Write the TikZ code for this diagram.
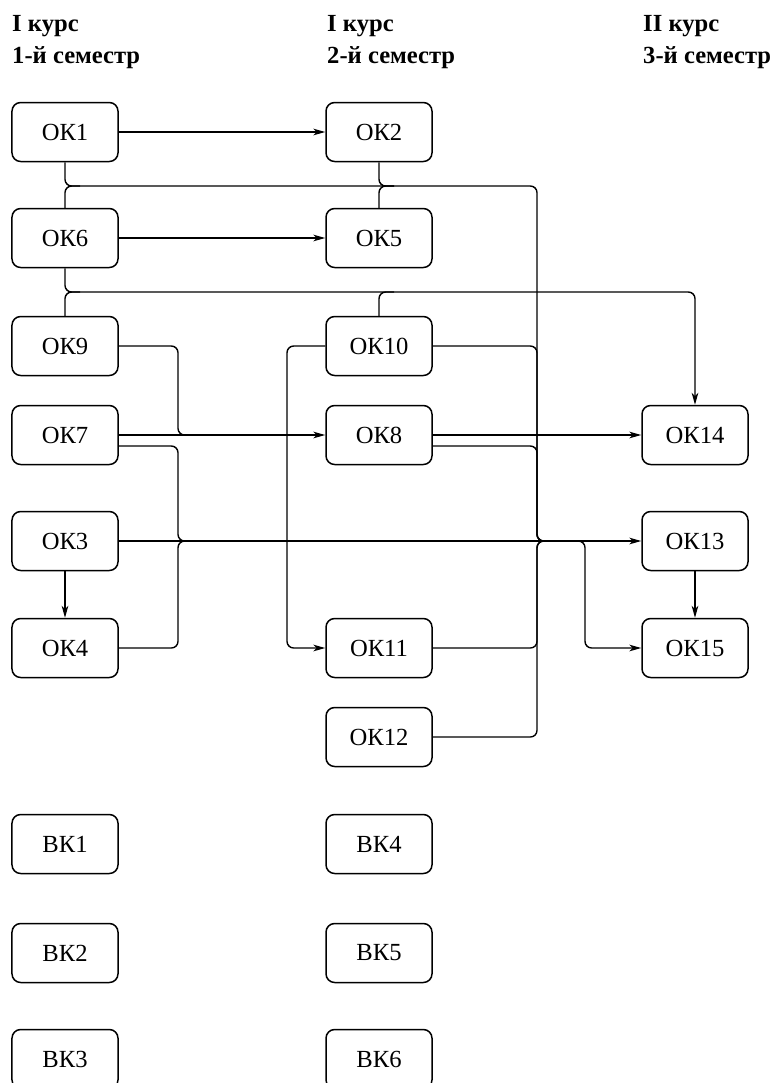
\documentclass[tikz,border=0pt]{standalone}
\usepackage{fontspec}
\setmainfont{Liberation Serif}
\usetikzlibrary{arrows.meta,calc}

\tikzset{
  kbox/.style={draw, line width=0.045cm, rounded corners=0.26cm,
    minimum width=3.18cm, minimum height=1.77cm, inner sep=0pt,
    font=\fontsize{21}{25}\selectfont},
  head/.style={anchor=base west, inner sep=0pt,
    font=\fontsize{21}{25}\selectfont\bfseries},
  conn/.style={line width=0.042cm, rounded corners=0.2cm},
  arr/.style={conn, -{Stealth[length=0.36cm, width=0.2cm, inset=0.1cm]}}
}

\begin{document}
\begin{tikzpicture}[x=0.03cm, y=-0.03cm]
\useasboundingbox (0,0) rectangle (779,1083);

% Headers
\node[head] (h1a) at (12,31) {І курс};
\node[head] (h1b) at (12,63) {1-й семестр};
\node[head] (h2a) at (327,31) {І курс};
\node[head] (h2b) at (327,63) {2-й семестр};
\node[head] (h3a) at (643,31) {ІІ курс};
\node[head] (h3b) at (643,63) {3-й семестр};

% Column 1
\node[kbox] (ok1) at (65,132) {ОК1};
\node[kbox] (ok6) at (65,238) {ОК6};
\node[kbox] (ok9) at (65,346) {ОК9};
\node[kbox] (ok7) at (65,435) {ОК7};
\node[kbox] (ok3) at (65,541) {ОК3};
\node[kbox] (ok4) at (65,648) {ОК4};
\node[kbox] (vk1) at (65,844) {ВК1};
\node[kbox] (vk2) at (65,953) {ВК2};
\node[kbox] (vk3) at (65,1059) {ВК3};

% Column 2
\node[kbox] (ok2) at (379,132) {ОК2};
\node[kbox] (ok5) at (379,238) {ОК5};
\node[kbox] (ok10) at (379,346) {ОК10};
\node[kbox] (ok8) at (379,435) {ОК8};
\node[kbox] (ok11) at (379,648) {ОК11};
\node[kbox] (ok12) at (379,737) {ОК12};
\node[kbox] (vk4) at (379,844) {ВК4};
\node[kbox] (vk5) at (379,953) {ВК5};
\node[kbox] (vk6) at (379,1059) {ВК6};

% Column 3
\node[kbox] (ok14) at (695,435) {ОК14};
\node[kbox] (ok13) at (695,541) {ОК13};
\node[kbox] (ok15) at (695,648) {ОК15};

% Bus points
\coordinate (top1) at (537,186);
\coordinate (top2) at (695,292);
\coordinate (j1) at (178,541);
\coordinate (j2) at (537,541);
\coordinate (split) at (585,541);
\coordinate (bend) at (287,500);

% Drawing straight lines
\draw[arr] (ok1.east) -- (ok2.west);
\draw[arr] (ok6.east) -- (ok5.west);
\draw[arr] (ok7.east) -- (ok8.west);
\draw[arr] (ok8.east) -- (ok14.west);
\draw[arr] (ok3.east) -- (ok13.west);
\draw[arr] (ok3.south) -- (ok4.north);
\draw[arr] (ok13.south) -- (ok15.north);

% Drawing bus to OK13
\draw[conn] (ok1.south) |- (top1) |- ($(j2)+(15,0)$);
\draw[conn] (ok6.north) |- ($(ok6.north |- top1)+(15,0)$);
\draw[conn] (ok2.south) |- ($(ok2.south |- top1)+(15,0)$);
\draw[conn] (ok5.north) |- ($(ok5.north |- top1)+(15,0)$);
\draw[conn] (ok10.east) -| (j2) -- ($(j2)+(15,0)$);
\draw[conn] ($(ok8.east)+(0,11)$) -| (j2) -- ($(j2)+(15,0)$);
\draw[conn] (ok11.east) -| (j2) -- ($(j2)+(15,0)$);
\draw[conn] (ok12.east) -| (j2) -- ($(j2)+(15,0)$);
\draw[conn] ($(ok7.east)+(0,11)$) -| (j1) -- ($(j1)+(15,0)$);
\draw[conn] (ok4.east) -| (j1) -- ($(j1)+(15,0)$);
\draw[arr] ($(split)+(-15,0)$) -- (split) |- (ok15.west);

% Drawing bus to OK14
\draw[arr] (ok6.south) |- (top2) -- (ok14.north);
\draw[conn] (ok9.north) |- ($(ok9.north |- top2)+(15,0)$);
\draw[conn] (ok10.north) |- ($(ok10.north |- top2)+(15,0)$);

% Drawing OK9 and OK10 lines
\draw[conn] (ok9.east) -| (j1 |- ok8.west) -- ($(j1 |- ok8.west)+(15,0)$);
\draw[arr] (ok10.west) -| (bend) |- (ok11.west);
\end{tikzpicture}
\end{document}
